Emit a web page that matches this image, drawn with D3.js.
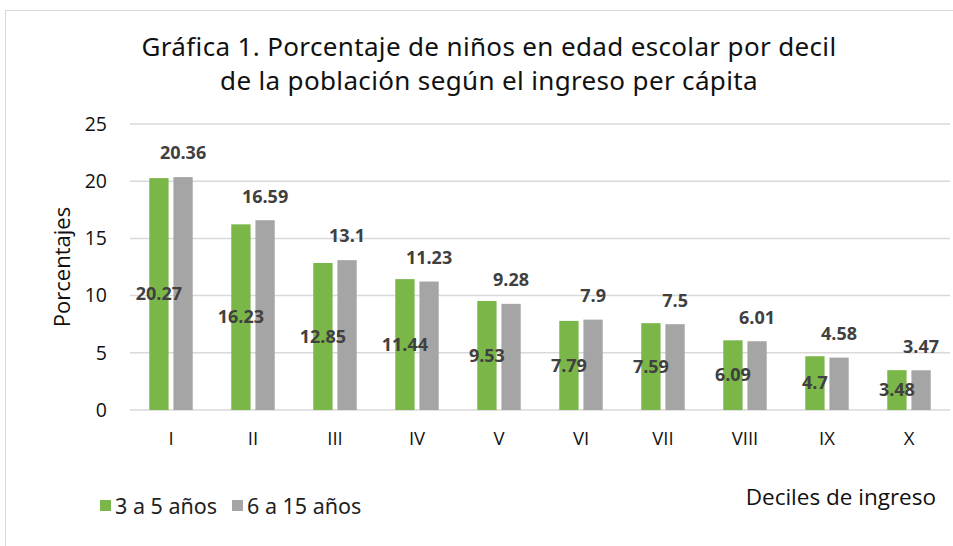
<!DOCTYPE html>
<html>
<head>
<meta charset="utf-8">
<script src="https://cdn.jsdelivr.net/npm/d3@7"></script>
<style>
  body { margin: 0; background: #fff; }
  svg { display: block; }
</style>
</head>
<body>
<svg id="chart" width="953" height="546"></svg>
<script>
// data
const deciles = ["I", "II", "III", "IV", "V", "VI", "VII", "VIII", "IX", "X"];
const serie3a5 = [20.27, 16.23, 12.85, 11.44, 9.53, 7.79, 7.59, 6.09, 4.7, 3.48];
const serie6a15 = [20.36, 16.59, 13.1, 11.23, 9.28, 7.9, 7.5, 6.01, 4.58, 3.47];
const seriesNames = ["3 a 5 años", "6 a 15 años"];
const yTicks = [0, 5, 10, 15, 20, 25];
const titleLines = ["Gráfica 1. Porcentaje de niños en edad escolar por decil", "de la población según el ingreso per cápita"];

const colors = ["#7ab648", "#a5a5a5"];
const labelFont = "'Open Sans', 'DejaVu Sans', sans-serif";

const svg = d3.select("#chart");

// frame
svg.append("rect")
  .attr("x", 5.5).attr("y", 10.5)
  .attr("width", 960).attr("height", 560)
  .attr("fill", "none").attr("stroke", "#d9d9d9");

const plotL = 130, plotR = 950, plotT = 124, plotB = 410;

const x = d3.scaleBand().domain(deciles).range([plotL, plotR]).paddingInner(0).paddingOuter(0);
const inner = d3.scaleBand().domain([0, 1]).range([x.bandwidth() * 0.235, x.bandwidth() * 0.765]).paddingInner(0.2);
const y = d3.scaleLinear().domain([0, 25]).range([plotB, plotT]);

// gridlines
svg.append("g")
  .selectAll("line")
  .data(yTicks)
  .join("line")
  .attr("x1", plotL).attr("x2", plotR)
  .attr("y1", d => y(d)).attr("y2", d => y(d))
  .attr("stroke", "#d9d9d9").attr("stroke-width", 1.5);

// y axis labels
const yAxis = d3.axisLeft(y).tickValues(yTicks).tickSize(0).tickPadding(0);
svg.append("g")
  .attr("transform", `translate(${plotL - 23},0)`)
  .call(yAxis)
  .call(g => g.select(".domain").remove())
  .selectAll("text")
  .attr("font-family", labelFont)
  .attr("font-size", 19.5)
  .attr("fill", "#111");

// x axis labels
const xAxis = d3.axisBottom(x).tickSize(0).tickPadding(0);
svg.append("g")
  .attr("transform", `translate(0,${plotB + 22})`)
  .call(xAxis)
  .call(g => g.select(".domain").remove())
  .selectAll("text")
  .attr("font-family", labelFont)
  .attr("font-size", 18.5)
  .attr("fill", "#111");

const rows = deciles.map((d, i) => ({ d, v: [serie3a5[i], serie6a15[i]] }));

const groups = svg.append("g")
  .selectAll("g")
  .data(rows)
  .join("g")
  .attr("transform", r => `translate(${x(r.d)},0)`);

groups.selectAll("rect")
  .data(r => r.v.map((v, k) => ({ v, k })))
  .join("rect")
  .attr("x", p => inner(p.k))
  .attr("width", inner.bandwidth())
  .attr("y", p => y(p.v))
  .attr("height", p => y(0) - y(p.v))
  .attr("fill", p => colors[p.k]);

// labels: green centered in bar, gray above bar
groups.selectAll("text.val")
  .data(r => r.v.map((v, k) => ({ v, k })))
  .join("text")
  .attr("class", "val")
  .attr("x", p => inner(p.k) + inner.bandwidth() / 2)
  .attr("y", p => p.k === 0 ? (y(p.v) + y(0)) / 2 : y(p.v) - 24)
  .attr("dy", "0.35em")
  .attr("text-anchor", "middle")
  .attr("font-family", labelFont)
  .attr("font-weight", "bold")
  .attr("font-size", 18)
  .attr("fill", "#404040")
  .text(p => p.v);

// title, one text per line
svg.append("g")
  .selectAll("text")
  .data(titleLines)
  .join("text")
  .attr("x", 489)
  .attr("y", (d, i) => 56 + i * 34)
  .attr("text-anchor", "middle")
  .attr("font-family", "'Noto Sans', sans-serif")
  .attr("font-size", 26)
  .attr("letter-spacing", 0.35)
  .attr("fill", "#111")
  .text(d => d);

// y axis title
svg.append("text")
  .attr("transform", `translate(70,${(plotT + plotB) / 2}) rotate(-90)`)
  .attr("text-anchor", "middle")
  .attr("font-family", labelFont)
  .attr("font-size", 22)
  .attr("fill", "#111")
  .text("Porcentajes");

// x axis title
svg.append("text")
  .attr("x", 936).attr("y", 505)
  .attr("text-anchor", "end")
  .attr("font-family", labelFont)
  .attr("font-size", 22.5)
  .attr("fill", "#111")
  .text("Deciles de ingreso");

// legend
const legendX = [100, 232];
const legend = svg.append("g")
  .selectAll("g")
  .data(seriesNames)
  .join("g")
  .attr("transform", (d, i) => `translate(${legendX[i]},500)`);
legend.append("rect")
  .attr("width", 11).attr("height", 11)
  .attr("fill", (d, i) => colors[i]);
legend.append("text")
  .attr("x", 15).attr("y", 6)
  .attr("dy", "0.35em")
  .attr("font-family", "'Noto Sans', sans-serif")
  .attr("font-size", 21.5)
  .attr("fill", "#222")
  .text(d => d);
</script>
</body>
</html>
